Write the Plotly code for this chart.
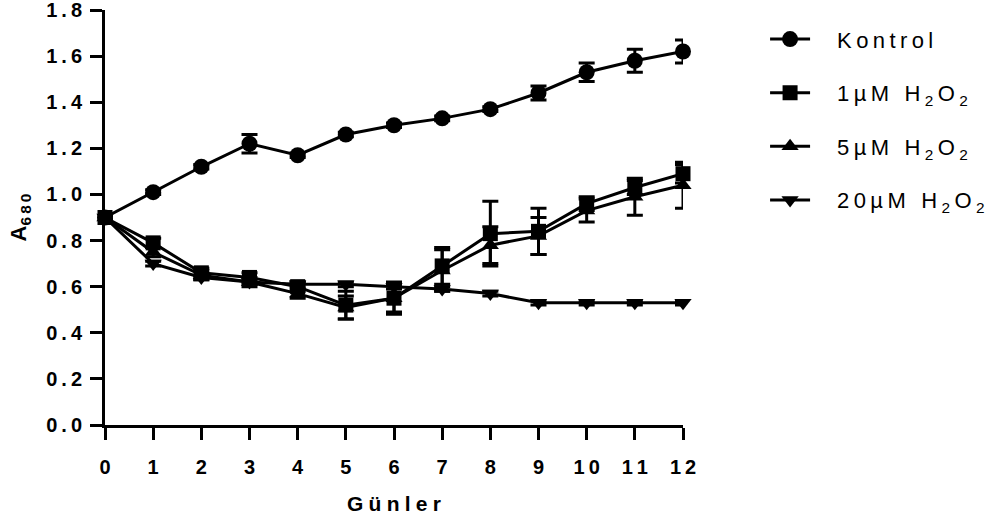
import plotly.graph_objects as go

days = list(range(13))
x_tick_labels = ["0", "1", "2", "3", "4", "5", "6", "7", "8", "9", "10", "11", "12"]
y_tick_vals = [0.0, 0.2, 0.4, 0.6, 0.8, 1.0, 1.2, 1.4, 1.6, 1.8]
y_tick_labels = ["0.0", "0.2", "0.4", "0.6", "0.8", "1.0", "1.2", "1.4", "1.6", "1.8"]

kontrol = [0.90, 1.01, 1.12, 1.22, 1.17, 1.26, 1.30, 1.33, 1.37, 1.44, 1.53, 1.58, 1.62]
kontrol_err = [0.01, 0.01, 0.01, 0.04, 0.01, 0.01, 0.01, 0.01, 0.01, 0.03, 0.04, 0.05, 0.05]

um1 = [0.90, 0.79, 0.66, 0.64, 0.60, 0.52, 0.55, 0.69, 0.83, 0.84, 0.96, 1.03, 1.09]
um1_err = [0.01, 0.02, 0.02, 0.02, 0.02, 0.06, 0.07, 0.08, 0.14, 0.10, 0.03, 0.03, 0.04]

um5 = [0.90, 0.75, 0.65, 0.62, 0.57, 0.51, 0.55, 0.67, 0.78, 0.82, 0.93, 0.99, 1.04]
um5_err = [0.01, 0.02, 0.02, 0.02, 0.02, 0.05, 0.06, 0.09, 0.08, 0.08, 0.05, 0.08, 0.10]

um20 = [0.90, 0.70, 0.64, 0.62, 0.61, 0.61, 0.60, 0.59, 0.57, 0.53, 0.53, 0.53, 0.53]
um20_err = [0.01, 0.01, 0.01, 0.01, 0.01, 0.01, 0.01, 0.01, 0.01, 0.01, 0.01, 0.01, 0.01]

series_names = ["Kontrol", "1µM H2O2", "5µM H2O2", "20µM H2O2"]

T = "\u2009"
LEAD = "\u2003"


def spaced(s, sep=T):
    return sep.join(list(s))


def legend_label(name):
    if name == "Kontrol":
        return LEAD + spaced(name)
    conc = name.split(" ")[0]
    return LEAD + spaced(conc) + T + "\u2002" + "H" + T + "<sub>2</sub>" + T + "O" + T + "<sub>2</sub>"


series = [kontrol, um1, um5, um20]
errs = [kontrol_err, um1_err, um5_err, um20_err]
symbols = ["circle", "square", "triangle-up", "triangle-down"]

fig = go.Figure()
for i, (n, s, e, sym) in enumerate(zip(series_names, series, errs, symbols)):
    fig.add_trace(go.Scatter(
        x=days, y=s, name=legend_label(n), mode="lines+markers",
        line=dict(color="black", width=3),
        marker=dict(symbol=sym, size=15 if sym != "circle" else 16, color="black"),
        error_y=dict(type="data", array=e, visible=True, color="black", thickness=3, width=8),
        legendgroup=f"g{i}", cliponaxis=False,
    ))

font_main = "Liberation Sans, Arial, sans-serif"
fig.update_layout(
    width=994, height=527,
    margin=dict(l=105, r=311, t=10, b=102, autoexpand=False),
    plot_bgcolor="white", paper_bgcolor="white",
    font=dict(family=font_main, color="black"),
    legend=dict(x=1.142, y=0.98, xanchor="left", yanchor="top",
                font=dict(size=22, family=font_main, color="black"),
                tracegroupgap=22, itemwidth=40, bgcolor="rgba(0,0,0,0)"),
    xaxis=dict(range=[0, 12], tickvals=days,
               ticktext=["<b>" + spaced(t) + "</b>" for t in x_tick_labels],
               showline=True, linecolor="black", linewidth=3,
               ticks="outside", ticklen=12, tickwidth=3, tickcolor="black",
               ticklabelstandoff=10, ticklabeloverflow="allow",
               showgrid=False, zeroline=False, automargin=False,
               tickfont=dict(size=20, family=font_main),
               title=dict(text="<b>" + spaced("Günler", "\u2005") + "</b>", font=dict(size=21), standoff=20)),
    yaxis=dict(range=[0, 1.8], tickvals=y_tick_vals,
               ticktext=["<b>" + spaced(t) + "</b>" for t in y_tick_labels],
               showline=True, linecolor="black", linewidth=3,
               ticks="outside", ticklen=12, tickwidth=3, tickcolor="black",
               ticklabelstandoff=4, ticklabeloverflow="allow",
               showgrid=False, zeroline=False, automargin=False,
               tickfont=dict(size=20, family=font_main),
               title=dict(text="<b>A<sub>" + spaced("680") + "</sub></b>", font=dict(size=22), standoff=14)),
)

fig.write_html("out.html", config={"displayModeBar": False},
               post_script="document.body.style.margin='0';")
